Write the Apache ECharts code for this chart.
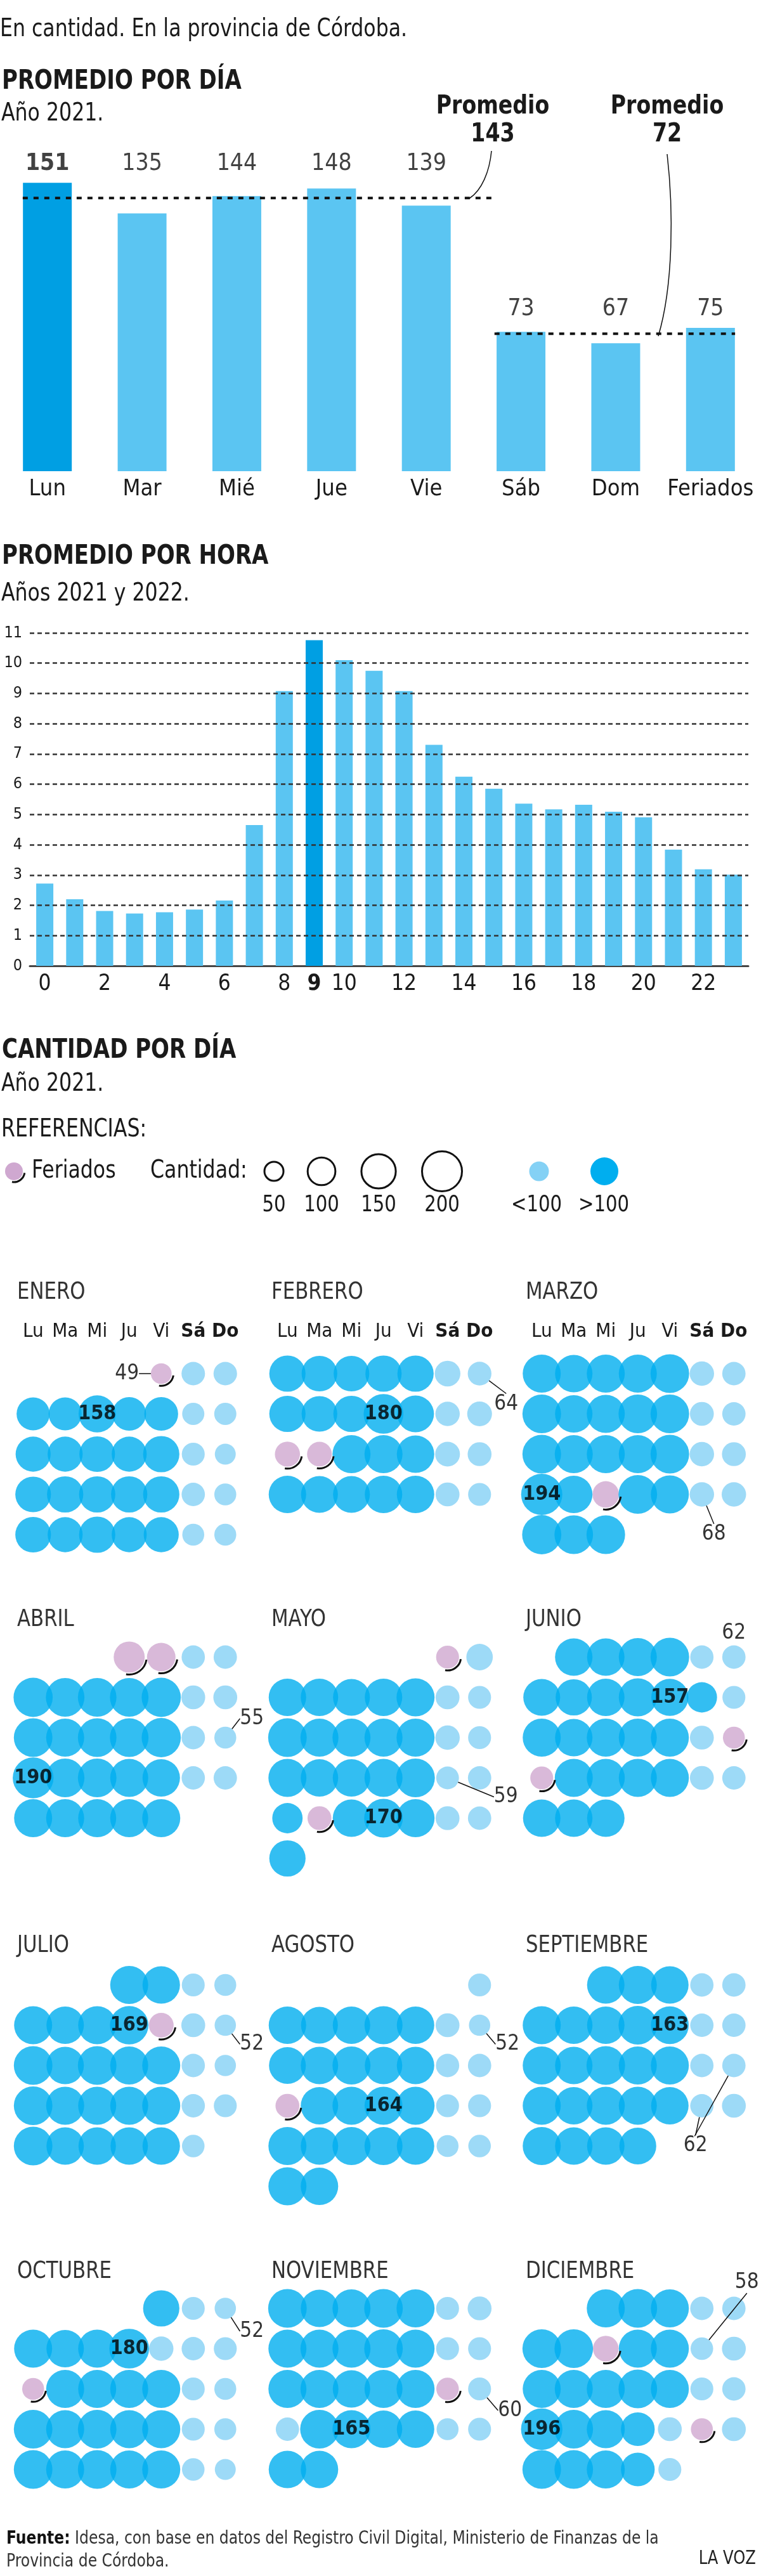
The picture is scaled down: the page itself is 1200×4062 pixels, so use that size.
<!DOCTYPE html>
<html>
<head>
<meta charset="utf-8">
<script src="https://cdn.jsdelivr.net/npm/echarts@6/dist/echarts.min.js"></script>
<style>
html,body{margin:0;padding:0;background:#fff}
#chart{width:1200px;height:4062px}
</style>
</head>
<body>
<div id="chart"></div>
<script>
var F = "'Liberation Sans Narrow','Arial Narrow','DejaVu Sans Condensed',sans-serif";
var TXT = '#1a1a1a';
var AZUL = '#009fe3', CELESTE = '#5bc5f2';
var C_OSCURO = '#00aeef', C_CLARO = '#84d1f5', C_FERIADO = '#cfa8d0';

// promedio por dia (2021)
var dias = ['Lun', 'Mar', 'Mié', 'Jue', 'Vie', 'Sáb', 'Dom', 'Feriados'];
var promedioDia = [151, 135, 144, 148, 139, 73, 67, 75];
var promedioLaborable = 143;
var promedioFinde = 72;

// promedio por hora (2021 y 2022)
var horas = ['0','1','2','3','4','5','6','7','8','9','10','11','12','13','14','15','16','17','18','19','20','21','22','23'];
var promedioHora = [2.72, 2.20, 1.81, 1.73, 1.77, 1.86, 2.16, 4.65, 9.08, 10.76, 10.10, 9.75, 9.08, 7.30, 6.25, 5.85, 5.36, 5.17, 5.32, 5.09, 4.91, 3.84, 3.19, 3.01];
var horaTicks = [1, 2, 3, 4, 5, 6, 7, 8, 9, 10, 11];

// cantidad por dia (2021)
var diasSemana = ['Lu', 'Ma', 'Mi', 'Ju', 'Vi', 'Sá', 'Do'];
var meses = ['ENERO', 'FEBRERO', 'MARZO', 'ABRIL', 'MAYO', 'JUNIO', 'JULIO', 'AGOSTO', 'SEPTIEMBRE', 'OCTUBRE', 'NOVIEMBRE', 'DICIEMBRE'];
var enero = [49,63,63, 125,125,158,130,130,56,56, 140,140,145,140,150,60,50, 145,150,150,150,150,62,55, 145,140,150,140,140,55,55];
var febrero = [150,145,145,150,150,75,64, 150,145,150,180,155,68,70, 72,70,165,165,160,70,65, 160,155,155,160,160,65,60];
var marzo = [165,160,165,165,170,68,62, 170,160,165,170,170,65,62, 170,165,165,165,170,68,65, 194,160,80,170,165,68,68, 175,170,170];
var abril = [110,93,62,62, 175,170,170,170,175,65,65, 170,165,170,170,175,63,55, 190,170,170,165,160,62,62, 165,165,165,165,165];
var mayo = [60,80, 160,160,155,160,165,65,60, 170,165,165,165,165,68,60, 165,160,160,165,170,59,62, 105,65,160,170,165,65,62, 150];
var junio = [160,160,165,170,62,62, 155,150,160,165,157,105,60, 165,160,165,165,165,65,55, 60,165,165,165,165,65,62, 160,160,160];
var julio = [165,160,60,55, 165,160,165,169,70,65,52, 170,160,170,165,165,62,52, 170,165,165,165,165,62,60, 170,160,160,160,160,58];
var agosto = [60, 160,155,160,165,160,65,52, 155,160,165,160,160,62,62, 65,160,165,164,165,60,60, 165,160,165,165,160,55,58, 165,160];
var septiembre = [160,165,160,62,62, 165,160,160,170,163,62,62, 165,160,170,165,165,62,62, 165,160,165,165,160,62,65, 165,160,160,155];
var octubre = [150,60,52, 165,160,165,180,68,62,60, 55,165,165,165,165,60,55, 170,165,170,165,165,60,55, 170,165,170,165,165,58,50];
var noviembre = [170,160,165,170,165,60,65, 165,165,165,170,165,60,60, 165,165,160,165,165,58,60, 62,170,165,160,160,55,60, 160,160];
var diciembre = [165,170,165,62,62, 170,170,75,165,165,58,65, 165,165,165,170,165,60,62, 196,170,165,130,65,55,65, 170,170,165,130,60];
var cantidades = [enero, febrero, marzo, abril, mayo, junio, julio, agosto, septiembre, octubre, noviembre, diciembre];

var feriados = [[0,1],[1,15],[1,16],[2,24],[3,1],[3,2],[4,1],[4,25],[5,20],[5,21],[6,9],[7,16],[9,11],[10,20],[11,8],[11,25]];
var destacados = [[0,6],[1,11],[2,22],[3,19],[4,27],[5,11],[6,8],[7,19],[8,10],[9,7],[10,24],[11,20]];
var bajos = [[0,1],[1,7],[2,27],[3,18],[4,22],[5,6],[6,11],[7,8],[8,25],[8,19],[9,3],[10,21],[11,11]];
var leyendaCantidad = [50, 100, 150, 200];

// ---- layout (px) ----
// [dx, dy, linea, texto visible]
var despBajos = [[-54,0,1,1],[42,48,1,1],[19,63,1,1],[42,-30,1,1],[92,30,1,1],[0,-38,0,1],[42,30,1,1],[44,30,1,1],[-10,63,1,1],[-62,128,1,0],[42,36,1,1],[48,34,1,1],[71,-104,1,1]];
var FILA0 = [2166, 2613, 3130, 3640];
var TITULO_MES_Y = [2038, 2554, 3068, 3582];
var PASO_X = 50.5, PASO_Y = 63.5;
var ESC = 0.9; // texto condensado

function tam(v) { return 4.67 * Math.sqrt(v); }

function texto(x, y, t, size, weight, align, extra) {
  var st = {text: t, fill: TXT, fontSize: size, fontFamily: F, fontWeight: weight || 'normal',
    textAlign: align || 'left', textVerticalAlign: 'middle', align: align || 'left', verticalAlign: 'middle'};
  if (extra) for (var k in extra) st[k] = extra[k];
  return {type: 'text', x: x, y: y, scaleX: ESC, silent: true, style: st};
}

var chart = echarts.init(document.getElementById('chart'));

var iMaxDia = promedioDia.indexOf(Math.max.apply(null, promedioDia));
var iMaxHora = promedioHora.indexOf(Math.max.apply(null, promedioHora));
function grupo(i) { return i < 5 ? 0 : 1; }
var maxGrupo = [Math.max.apply(null, promedioDia.slice(0, 5)), Math.max.apply(null, promedioDia.slice(5))];
var MEDIA_BARRA = 0.26;
var punteado = {color: '#111', width: 4, type: [8, 9]};

var grids = [
  {left: 0, width: 1195, top: 231, height: 512},
  {left: 47, width: 1133, top: 998, height: 525}
];
var xAxes = [
  {gridIndex: 0, type: 'category', data: dias, axisLine: {show: false}, axisTick: {show: false},
   axisLabel: {interval: 0, fontSize: 36, fontFamily: F, color: TXT, margin: 11}},
  {gridIndex: 0, type: 'value', min: -0.5, max: 7.5, show: false, position: 'top'},
  {gridIndex: 1, type: 'category', data: horas, axisTick: {show: false},
   axisLine: {lineStyle: {color: '#444', width: 3}},
   axisLabel: {fontSize: 35, fontFamily: F, color: TXT, margin: 11,
     interval: function (i) { return i % 2 === 0 || i === iMaxHora; },
     formatter: function (v, i) { return i === iMaxHora ? '{b|' + v + '}' : v; },
     rich: {b: {fontSize: 35, fontFamily: F, fontWeight: 'bold', color: TXT}}}}
];
var yAxes = [
  {gridIndex: 0, type: 'value', min: 0, max: 170, show: false},
  {gridIndex: 1, type: 'value', min: 0, max: 11, interval: 1, splitLine: {show: false},
   axisLabel: {fontSize: 25, fontFamily: F, color: TXT, margin: 12}}
];

var series = [
  {type: 'bar', xAxisIndex: 0, yAxisIndex: 0, barWidth: 77,
   data: promedioDia.map(function (v, i) { return {value: v, itemStyle: {color: i === iMaxDia ? AZUL : CELESTE}}; })},
  {type: 'scatter', xAxisIndex: 0, yAxisIndex: 0, symbolSize: 1, itemStyle: {color: 'transparent'}, z: 5,
   data: promedioDia.map(function (v, i) {
     return {value: [i, maxGrupo[grupo(i)] + 10, v],
       label: {show: true, position: 'inside', fontSize: 37, fontFamily: F, color: '#111',
         fontWeight: i === iMaxDia ? 'bold' : 'normal', formatter: String(v)}};
   })},
  {type: 'line', xAxisIndex: 1, yAxisIndex: 0, symbol: 'none', z: 6, lineStyle: punteado,
   data: [[0 - MEDIA_BARRA, promedioLaborable], [5 - MEDIA_BARRA - 0.05, promedioLaborable]]},
  {type: 'line', xAxisIndex: 1, yAxisIndex: 0, symbol: 'none', z: 6, lineStyle: punteado,
   data: [[5 - MEDIA_BARRA - 0.02, promedioFinde], [7 + MEDIA_BARRA, promedioFinde]]},
  {type: 'bar', xAxisIndex: 2, yAxisIndex: 1, barWidth: 27,
   data: promedioHora.map(function (v, i) { return {value: v, itemStyle: {color: i === iMaxHora ? AZUL : CELESTE}}; }),
   markLine: {silent: true, symbol: 'none', label: {show: false},
     lineStyle: {color: '#333', width: 2.5, type: [7, 5]},
     data: horaTicks.map(function (t) { return {yAxis: t}; })}}
];

// calendario
function esFeriado(m, d) {
  return feriados.some(function (f) { return f[0] === m && f[1] === d; });
}
function celda(m, d) {
  var primer = (new Date(2021, m, 1).getDay() + 6) % 7;
  var pos = primer + d - 1;
  return [pos % 7, Math.floor(pos / 7), cantidades[m][d - 1]];
}

var graphics = [];
meses.forEach(function (nombre, m) {
  var q = Math.floor(m / 3), k = m % 3;
  var gi = grids.length;
  grids.push({left: 27 + k * 401, width: 7 * PASO_X, top: FILA0[q] - PASO_Y / 2, height: 6 * PASO_Y});
  var xi = xAxes.length, yi = yAxes.length;
  xAxes.push({gridIndex: gi, type: 'category', data: diasSemana, position: 'top',
    axisLine: {show: false}, axisTick: {show: false},
    axisLabel: {show: q === 0, interval: 0, margin: 19, fontSize: 31, fontFamily: F, color: TXT,
      formatter: function (v, i) { return i >= 5 ? '{b|' + v + '}' : v; },
      rich: {b: {fontSize: 31, fontFamily: F, fontWeight: 'bold', color: TXT}}}});
  yAxes.push({gridIndex: gi, type: 'value', min: -0.5, max: 5.5, inverse: true, show: false});

  var datos = cantidades[m].map(function (v, i) {
    var d = i + 1;
    var c = celda(m, d);
    var col = esFeriado(m, d) ? C_FERIADO : (v < 100 ? C_CLARO : C_OSCURO);
    return {value: c, symbolSize: tam(v), itemStyle: {color: col}};
  });
  series.push({type: 'scatter', xAxisIndex: xi, yAxisIndex: yi, z: 2, silent: true, data: datos});

  var arcos = feriados.filter(function (f) { return f[0] === m; }).map(function (f) { return celda(m, f[1]); });
  series.push({type: 'custom', xAxisIndex: xi, yAxisIndex: yi, z: 3, silent: true, data: arcos,
    encode: {x: 0, y: 1},
    renderItem: function (params, api) {
      var c = api.coord([api.value(0), api.value(1)]);
      var r = tam(api.value(2)) / 2;
      return {type: 'arc', shape: {cx: c[0], cy: c[1], r: r + 3, startAngle: 0.15, endAngle: 1.75},
        style: {stroke: '#111', fill: 'transparent', lineWidth: 3}};
    }});

  var etiq = [], desp = [];
  destacados.forEach(function (e) {
    if (e[0] !== m) return;
    var c = celda(m, e[1]);
    etiq.push({value: c, symbolSize: tam(c[2]),
      label: {show: true, position: 'inside', formatter: String(c[2]), fontSize: 32, fontWeight: 'bold', fontFamily: F, color: '#000'},
      labelLine: {show: false}});
    desp.push([0, 0]);
  });
  bajos.forEach(function (e, j) {
    if (e[0] !== m) return;
    var c = celda(m, e[1]);
    var dj = despBajos[j];
    etiq.push({value: c, symbolSize: tam(c[2]),
      label: {show: true, position: 'inside', formatter: String(c[2]), fontSize: 33, fontWeight: 'normal', fontFamily: F,
        color: dj[3] ? '#000' : 'transparent'},
      labelLine: {show: !!dj[2], lineStyle: {color: '#111', width: 1.5}}});
    desp.push(dj);
  });
  series.push({type: 'scatter', xAxisIndex: xi, yAxisIndex: yi, z: 5, silent: true,
    itemStyle: {color: 'transparent'}, data: etiq,
    labelLayout: function (p) { var dd = desp[p.dataIndex]; return {dx: dd[0], dy: dd[1]}; }});

  graphics.push(texto(27 + k * 401, TITULO_MES_Y[q], nombre, 38, 'normal', 'left', {fill: '#333'}));
});

// textos
graphics.push(texto(0, 47, 'En cantidad. En la provincia de Córdoba.', 39));
graphics.push(texto(3, 129, 'PROMEDIO POR DÍA', 42, 'bold'));
graphics.push(texto(2, 180, 'Año 2021.', 39));
graphics.push(texto(777, 168, 'Promedio', 41, 'bold', 'center'));
graphics.push(texto(777, 212, String(promedioLaborable), 41, 'bold', 'center'));
graphics.push(texto(1052, 168, 'Promedio', 41, 'bold', 'center'));
graphics.push(texto(1052, 212, String(promedioFinde), 41, 'bold', 'center'));
graphics.push({type: 'bezierCurve', silent: true, shape: {x1: 775, y1: 238, x2: 740, y2: 313, cpx1: 772, cpy1: 270, cpx2: 760, cpy2: 300},
  style: {stroke: '#111', lineWidth: 1.5, fill: null}});
graphics.push({type: 'bezierCurve', silent: true, shape: {x1: 1052, y1: 243, x2: 1038, y2: 530, cpx1: 1062, cpy1: 330, cpx2: 1062, cpy2: 450},
  style: {stroke: '#111', lineWidth: 1.5, fill: null}});

graphics.push(texto(3, 878, 'PROMEDIO POR HORA', 42, 'bold'));
graphics.push(texto(2, 937, 'Años 2021 y 2022.', 39));

graphics.push(texto(3, 1657, 'CANTIDAD POR DÍA', 42, 'bold'));
graphics.push(texto(2, 1710, 'Año 2021.', 39));
graphics.push(texto(2, 1782, 'REFERENCIAS:', 39));

// leyenda
graphics.push({type: 'circle', silent: true, shape: {cx: 22, cy: 1847, r: 14}, style: {fill: C_FERIADO}});
graphics.push({type: 'arc', silent: true, shape: {cx: 22, cy: 1847, r: 17, startAngle: 0.15, endAngle: 1.75}, style: {stroke: '#111', lineWidth: 3, fill: 'transparent'}});
graphics.push(texto(50, 1847, 'Feriados', 39));
graphics.push(texto(237, 1847, 'Cantidad:', 39));
var leyX = [432, 507, 597, 697];
leyendaCantidad.forEach(function (v, i) {
  graphics.push({type: 'circle', silent: true, shape: {cx: leyX[i], cy: 1847, r: tam(v) / 2 - 1.5}, style: {fill: '#fff', stroke: '#111', lineWidth: 3}});
  graphics.push(texto(leyX[i], 1901, String(v), 36, 'normal', 'center'));
});
graphics.push({type: 'circle', silent: true, shape: {cx: 850, cy: 1847, r: 15.5}, style: {fill: C_CLARO}});
graphics.push({type: 'circle', silent: true, shape: {cx: 953, cy: 1847, r: 22}, style: {fill: C_OSCURO}});
graphics.push(texto(846, 1901, '<100', 36, 'normal', 'center'));
graphics.push(texto(952, 1901, '>100', 36, 'normal', 'center'));

// fuente
graphics.push(texto(10, 4003, '{b|Fuente:} Idesa, con base en datos del Registro Civil Digital, Ministerio de Finanzas de la', 29, 'normal', 'left',
  {fill: '#333', rich: {b: {fontSize: 29, fontFamily: F, fontWeight: 'bold', fill: '#111'}}}));
graphics.push(texto(10, 4039, 'Provincia de Córdoba.', 29, 'normal', 'left', {fill: '#333'}));
graphics.push(texto(1192, 4035, 'LA VOZ', 30, 'normal', 'right', {fill: '#222'}));

chart.setOption({
  animation: false,
  backgroundColor: '#fff',
  textStyle: {fontFamily: F},
  grid: grids,
  xAxis: xAxes,
  yAxis: yAxes,
  series: series,
  graphic: {elements: graphics}
});
</script>
</body>
</html>
